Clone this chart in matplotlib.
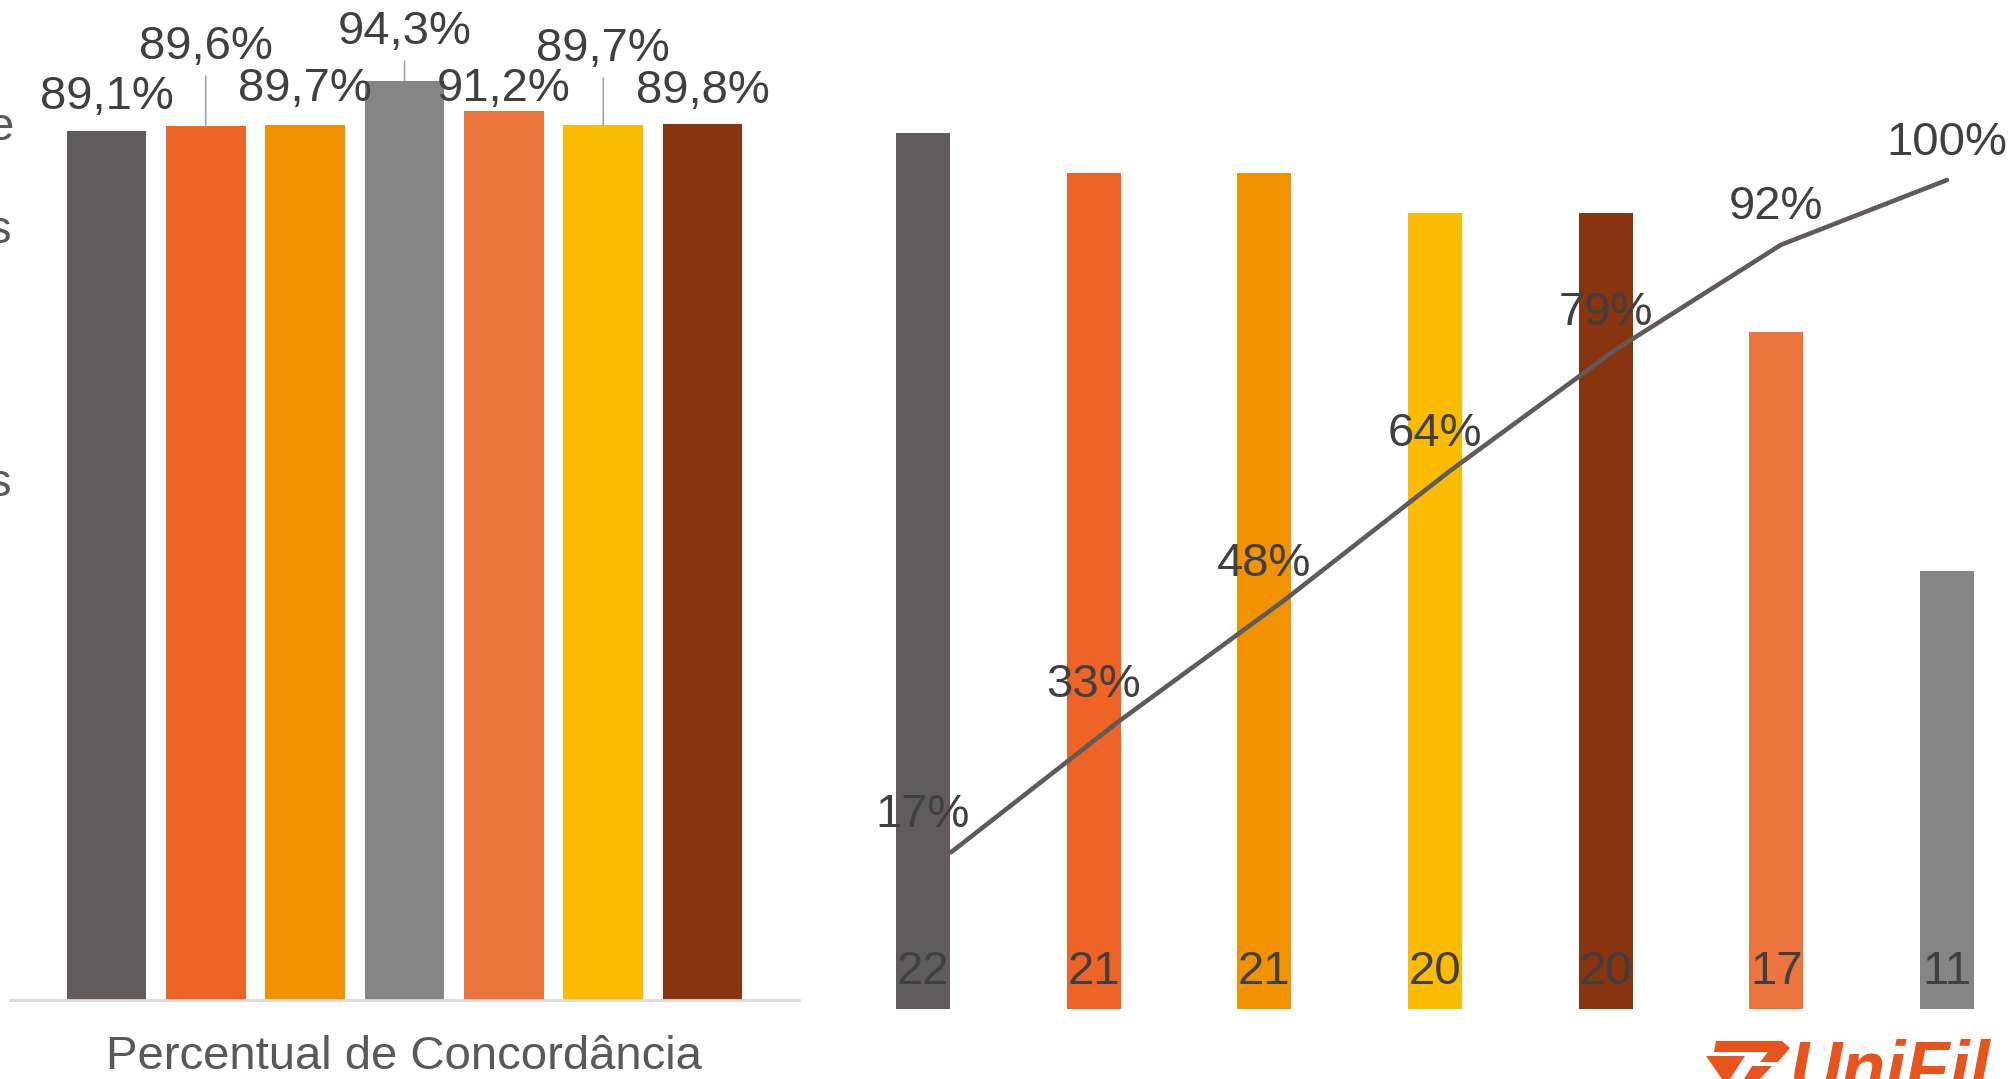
import matplotlib.pyplot as plt
from matplotlib.patches import Polygon

# left chart: agreement percentage per item
agree_pct = [89.1, 89.6, 89.7, 94.3, 91.2, 89.7, 89.8]
agree_colors = ["#615c5a", "#ee6427", "#f29200", "#858585", "#ec743d", "#fbbc00", "#87340f"]

# right chart: counts with cumulative percentage line
counts = [22, 21, 21, 20, 20, 17, 11]
cum_pct = [17, 33, 48, 64, 79, 92, 100]
count_colors = ["#615c5a", "#ee6427", "#f29200", "#fbbc00", "#87340f", "#ec743d", "#858585"]

W, H = 2013, 1079
FONT = "Liberation Sans"
TXT = "#404040"

plt.rcParams["font.family"] = [FONT, "DejaVu Sans"]

fig = plt.figure(figsize=(W / 100, H / 100), dpi=100)


def px_axes(x0, y_top, x1, y_bottom):
    return fig.add_axes([x0 / W, (H - y_bottom) / H, (x1 - x0) / W, (y_bottom - y_top) / H])


# ---- left chart
ax = px_axes(10, 25, 799, 1000)
xs = list(range(len(agree_pct)))
ax.bar(xs, [v / 100 for v in agree_pct], width=0.8, color=agree_colors, zorder=2)
ax.set_xlim(-0.97, 6.97)
ax.set_ylim(0, 1)
for s in ["top", "right", "left"]:
    ax.spines[s].set_visible(False)
ax.spines["bottom"].set_color("#d9d9d9")
ax.spines["bottom"].set_linewidth(2)
ax.set_xticks([])
ax.set_yticks([])

# label offsets (points above bar top); some raised with leader lines
label_offsets = [25, 57, 26, 35, 16, 55, 24]
leader = [False, True, False, True, False, True, False]
for i, v in enumerate(agree_pct):
    txt = f"{v:.1f}%".replace(".", ",")
    kw = {}
    if leader[i]:
        kw["arrowprops"] = dict(arrowstyle="-", color="#a6a6a6", lw=1.2,
                                shrinkA=3, shrinkB=0)
    ax.annotate(txt, xy=(i, v / 100), xytext=(0, label_offsets[i]),
                textcoords="offset points", ha="center", va="center",
                fontsize=34, color=TXT, zorder=3, **kw)

fig.text(404 / W, (H - 1057) / H, "Percentual de Concordância", ha="center",
         va="center", fontsize=34, color="#595959")

# cut-off letters at the left edge (remains of a wider slide)
for letter, ypx in [("e", 128), ("s", 231), ("s", 484)]:
    fig.text(-12 / W, (H - ypx) / H, letter, ha="left", va="center",
             fontsize=34, color="#595959")

# ---- right chart
ax2 = px_axes(838, 100, 2013, 1009)
xs2 = list(range(len(counts)))
ax2.bar(xs2, counts, width=0.316, color=count_colors, zorder=2)
ax2.set_xlim(-0.498, 6.386)
ax2.set_ylim(0, 22.84)
ax2.axis("off")
for i, c in enumerate(counts):
    ax2.annotate(str(c), xy=(i, 0), xytext=(0, 27), textcoords="offset points",
                 ha="center", va="center", fontsize=34, color=TXT, zorder=4)

# cumulative line sits on its own (secondary) x and y axes
ax3 = px_axes(838, 100, 2013, 1009)
ax3.set_xlim(-0.681, 6.398)
ax3.set_ylim(-0.0235, 1.0988)
ax3.axis("off")
ax3.plot(xs2, [p / 100 for p in cum_pct], color="#605b59", lw=3.3,
         solid_capstyle="round", solid_joinstyle="round", zorder=3)

# percentage labels centred over the bars, above the line level
for i, p in enumerate(cum_pct):
    yl = ax2.transData.inverted().transform(ax3.transData.transform((0, p / 100)))[1]
    ax2.annotate(f"{p}%", xy=(i, yl), xytext=(0, 27), textcoords="offset points",
                 ha="center", va="center", fontsize=34, color=TXT, zorder=5,
                 annotation_clip=False)

# ---- logo (partially cut off at the bottom)
LOGO = "#e8531e"
fig.text(1790 / W, (H - 1092) / H, "UniFil", ha="left", va="baseline",
         fontsize=52, fontweight="bold", fontstyle="italic", color=LOGO, family=FONT)


def fig_poly(pts):
    return Polygon([(x / W, (H - y) / H) for x, y in pts], closed=True,
                   transform=fig.transFigure, facecolor=LOGO, edgecolor="none")


fig.patches.append(fig_poly([(1716, 1041), (1782, 1041), (1790, 1048), (1778, 1062),
                             (1760, 1062), (1768, 1052), (1714, 1052)]))
fig.patches.append(fig_poly([(1706, 1056), (1745, 1056), (1730, 1079), (1722, 1079)]))
fig.patches.append(fig_poly([(1752, 1066), (1772, 1066), (1760, 1079), (1744, 1079)]))

fig.savefig("out.png", dpi=100)
